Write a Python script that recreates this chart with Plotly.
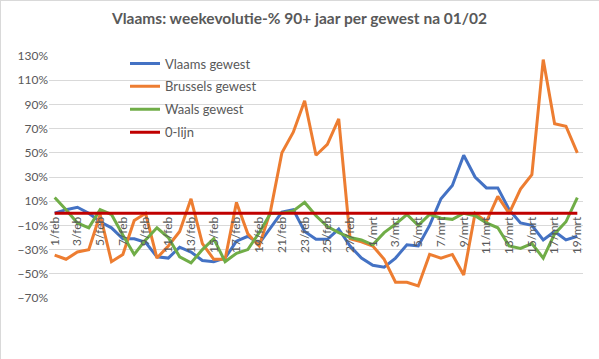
import plotly.graph_objects as go

feb = [f"{d}/feb" for d in range(1, 29)]
mrt = [f"{d}/mrt" for d in range(1, 20)]
categories = feb + mrt

vlaams = [0, 3, 5, 0, -7, -12, -21, -21, -24, -36, -37, -28, -32, -39, -40, -37,
          -23, -19, -25, -12, 1, 3, -15, -21.5, -21.5, -13, -27, -37, -43, -44.5,
          -37, -26, -27, -10, 12, 23, 48, 30, 21, 21, 3, -8, -10, -22, -15, -22, -19]
brussels = [-34.5, -38, -32, -30, -1, -40, -34, -6, 0, -37, -27, -15, 12, -25, -38, -38,
            9, -17, -27, 2, 50, 67, 93, 48, 57, 78, -21, -23.5, -27, -38,
            -57, -57, -60, -34, -37, -34, -51, 0, -7, 14, 0, 20, 32, 127, 74, 72, 50]
waals = [13, 3, -8, -12, 3, -1, -18, -34, -22, -12, -20, -36, -41, -30, -21, -40,
         -33, -30, -16, 0, 0, 2, 9, -2, -11, -16, -20, -22, -26, -16,
         -9, -1, -10, -1, -4, -5, 0, -2, -8, -12, -27, -29, -25, -37, -17, -7, 13]
nullijn = [0] * len(categories)

series_names = ["Vlaams gewest", "Brussels gewest", "Waals gewest", "0-lijn"]
series_colors = ["#4472C4", "#ED7D31", "#70AD47", "#C00000"]
tick_labels = categories[::2]

W, H = 599, 359
ML, MR, MT, MB = 49, 16, 56, 61
plot_h = H - MT - MB
plot_w = W - ML - MR

fig = go.Figure()
for name, vals, col in zip(series_names, [vlaams, brussels, waals, nullijn], series_colors):
    fig.add_trace(go.Scatter(
        x=categories, y=vals, mode="lines", name=name, legendgroup=name,
        line=dict(color=col, width=3), hoverinfo="skip"))

gray = "#595959"
fig.update_layout(
    width=W, height=H,
    margin=dict(l=ML, r=MR, t=MT, b=MB),
    paper_bgcolor="white", plot_bgcolor="white",
    font=dict(family="Lato, Liberation Sans, sans-serif", color=gray, size=12),
    title=dict(text="<b>Vlaams: weekevolutie-% 90+ jaar per gewest na 01/02</b>",
               x=0.5, xanchor="center", y=1 - 19 / H, yanchor="middle",
               font=dict(size=15.5, color=gray)),
    showlegend=True,
    legend=dict(x=(125 - ML) / plot_w, y=1 - (48.5 - MT) / plot_h, xanchor="left", yanchor="top",
                bgcolor="rgba(0,0,0,0)", font=dict(size=13, color=gray),
                tracegroupgap=3, itemwidth=30),
    xaxis=dict(type="category", tickmode="array", tickvals=tick_labels, ticktext=tick_labels,
               tickangle=-90, anchor="free", position=(0 - (-70)) / 200,
               showgrid=False, showline=False, zeroline=False,
               ticks="", tickfont=dict(size=12, color=gray),
               range=[-0.5, len(categories) - 0.5]),
    yaxis=dict(range=[-70, 130], tick0=-70, dtick=20, ticksuffix="%",
               showgrid=True, gridcolor="#D9D9D9", gridwidth=1,
               zeroline=False, showline=False, ticks="",
               tickfont=dict(size=12, color=gray)),
    shapes=[
        dict(type="line", xref="paper", yref="paper",
             x0=-ML / plot_w, x1=1 + MR / plot_w, y0=1 + (MT - 0.5) / plot_h, y1=1 + (MT - 0.5) / plot_h,
             line=dict(color="#D9D9D9", width=1)),
        dict(type="line", xref="paper", yref="paper",
             x0=-(ML - 0.5) / plot_w, x1=-(ML - 0.5) / plot_w, y0=-MB / plot_h, y1=1 + MT / plot_h,
             line=dict(color="#D9D9D9", width=1)),
    ],
)

fig.write_html("out.html", config={"displayModeBar": False},
               post_script="document.body.style.margin='0';document.body.style.padding='0';")
